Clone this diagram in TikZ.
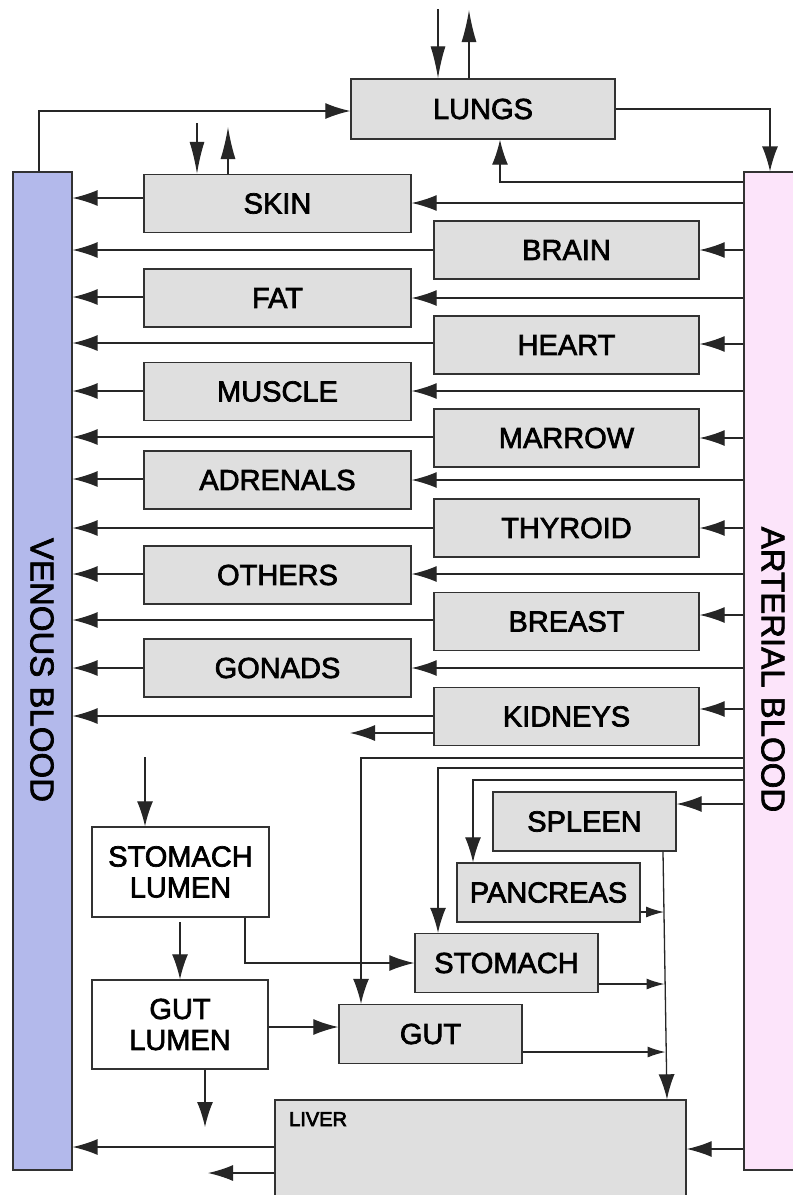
\documentclass[tikz,border=0pt]{standalone}
\usepackage{fontspec}
\setmainfont{Liberation Sans}
\newcommand\heavytext{\special{pdf:literal direct 2 Tr 0.7 w}}
\usetikzlibrary{arrows.meta,calc}
\definecolor{boxgray}{RGB}{223,223,223}
\definecolor{venouscol}{RGB}{179,185,235}
\definecolor{arterialcol}{RGB}{252,228,250}
\definecolor{edgecol}{RGB}{50,50,50}
\begin{document}
\begin{tikzpicture}[x=1pt,y=-1pt,
 organ/.style={draw=edgecol, line width=1.4pt, fill=boxgray, inner sep=0pt, font=\fontsize{29}{31}\selectfont\heavytext},
 lumen/.style={organ, fill=white, align=center},
 blood/.style={draw=edgecol, line width=1.2pt, inner sep=0pt},
 bloodlabel/.style={rotate=-90, inner sep=0pt, font=\fontsize{33}{36}\selectfont\heavytext},
 flow/.style={draw=black!85, line width=1.3pt},
 arr/.style={flow, -{Latex[length=25pt,width=16pt]}},
 sarr/.style={flow, -{Latex[length=18pt,width=11pt]}},
 larr/.style={flow, -{Latex[length=32pt,width=15pt]}},
]
\clip (0,0) rectangle (793,1195);
\fill[white] (0,0) rectangle (793,1195);

% blood pools
\node[blood, fill=venouscol, minimum width=59pt, minimum height=998pt] (venous) at (42.5,671) {};
\node[blood, fill=arterialcol, minimum width=66pt, minimum height=998pt] (art) at (777,671) {};
\node[bloodlabel] (venlabel) at (42,670) {VENOUS BLOOD};
\node[bloodlabel] (artlabel) at (773,669.5) {ARTERIAL BLOOD};

% organs
\node[organ, minimum width=264pt, minimum height=60pt] (lungs) at (483,109) {LUNGS};
\begin{scope}[every node/.append style={minimum width=267pt, minimum height=58pt}]
\node[organ] (skin) at (277.5,203.5) {SKIN};
\node[organ] (fat) at (277.5,298) {FAT};
\node[organ] (muscle) at (277.5,391.5) {MUSCLE};
\node[organ] (adrenals) at (277.5,480) {ADRENALS};
\node[organ] (others) at (277.5,575) {OTHERS};
\node[organ] (gonads) at (277.5,668) {GONADS};
\end{scope}
\begin{scope}[every node/.append style={minimum width=265pt, minimum height=58pt}]
\node[organ] (brain) at (566.5,250) {BRAIN};
\node[organ] (heart) at (566.5,345) {HEART};
\node[organ] (marrow) at (566.5,438) {MARROW};
\node[organ] (thyroid) at (566.5,528) {THYROID};
\node[organ] (breast) at (566.5,621.5) {BREAST};
\node[organ] (kidneys) at (566.5,716.5) {KIDNEYS};
\end{scope}
\begin{scope}[every node/.append style={minimum width=183pt, minimum height=59pt}]
\node[organ] (spleen) at (584.5,821.5) {SPLEEN};
\node[organ] (pancreas) at (548.5,892.5) {PANCREAS};
\node[organ] (stomach) at (506.5,963) {STOMACH};
\node[organ] (gut) at (430.5,1034) {GUT};
\end{scope}
\node[lumen, minimum width=177pt, minimum height=90pt] (slumen) at (180.5,872) {STOMACH\\LUMEN};
\node[lumen, minimum width=176pt, minimum height=89pt] (glumen) at (180,1024.5) {GUT\\LUMEN};
\node[organ, minimum width=411pt, minimum height=120pt] (liver) at (480.5,1160) {};
\node[anchor=base west, inner sep=0pt, font=\fontsize{20}{22}\selectfont\heavytext] (liverlabel) at (289,1126) {LIVER};

% lungs
\coordinate (lin) at (438,9);
\coordinate (lout) at (469,10);
\draw[larr] (lin) -- (lin |- lungs.north);
\draw[larr] (lout |- lungs.north) -- (lout);
\draw[arr] (venous.north -| 39,0) |- (lungs.west |- 0,111);
\draw[arr] (lungs.east |- 0,109) -| (art.north -| 770,0);
\draw[arr] (art.west |- 0,182) -| (lungs.south -| 500,0);

% skin exchange
\coordinate (sknin) at (197,123);
\coordinate (sknout) at (228,127);
\draw[larr] (sknin) -- (sknin |- skin.north);
\draw[larr] (sknout |- skin.north) -- (sknout);

% arterial -> organ -> venous
\foreach \n/\a/\b in {skin/203/198, fat/298/297, muscle/391/391, adrenals/480/479, others/574/574, gonads/668/668,
  brain/250/250, heart/344/343, marrow/438/437, thyroid/528/528, breast/615/620, kidneys/709/716}{
  \draw[arr] (art.west |- 0,\a) -- (\n.east |- 0,\a);
  \draw[arr] (\n.west |- 0,\b) -- (venous.east |- 0,\b);
}
\coordinate (kout) at (350,733);
\draw[arr] (kidneys.west |- kout) -- (kout);

% splanchnic supply
\draw[arr] (art.west |- 0,758) -| (gut.north -| 361,0);
\draw[arr] (art.west |- 0,768) -| (stomach.north -| 438,0);
\draw[arr] (art.west |- 0,780) -| (pancreas.north -| 473,0);
\draw[arr] (art.west |- 0,804) -- (spleen.east |- 0,804);

% portal drainage
\draw[arr] (spleen.south -| 663,0) -- (liver.north -| 667,0);
\coordinate (pp) at (664,912);
\coordinate (ps) at (664.5,984);
\coordinate (pg) at (665.5,1052);
\draw[sarr] (pancreas.east |- pp) -- (pp);
\draw[sarr] (stomach.east |- ps) -- (ps);
\draw[sarr] (gut.east |- pg) -- (pg);

% lumen
\coordinate (sin) at (145,757);
\draw[arr] (sin) -- (sin |- slumen.north);
\coordinate (sg) at (180,922);
\draw[arr] (sg) -- (sg |- glumen.north);
\draw[arr] (slumen.south -| 245,0) |- (stomach.west);
\draw[arr] (glumen.east |- 0,1027) -- (gut.west |- 0,1027);
\coordinate (gout) at (205,1127);
\draw[arr] (glumen.south -| gout) -- (gout);

% liver
\draw[arr] (art.west |- 0,1149) -- (liver.east |- 0,1149);
\draw[arr] (liver.west |- 0,1147) -- (venous.east |- 0,1147);
\coordinate (lo) at (208,1173);
\draw[arr] (liver.west |- lo) -- (lo);
\end{tikzpicture}
\end{document}
